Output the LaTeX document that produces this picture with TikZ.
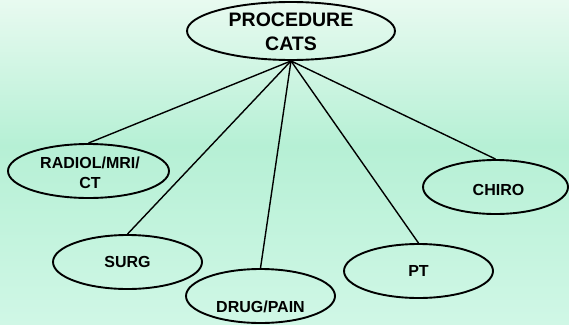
\documentclass[tikz,border=0pt]{standalone}
\usepackage{fontspec}
\setmainfont{Liberation Sans}
\usetikzlibrary{shapes.geometric}

\definecolor{bgtop}{RGB}{232,250,240}
\definecolor{bgmid}{RGB}{182,240,213}
\definecolor{bgbot}{RGB}{208,247,230}

\tikzset{
  cat/.style={ellipse, draw=black, line width=1.9pt, inner sep=0pt,
    minimum width=149pt, minimum height=54pt},
  lbl/.style={font=\bfseries\fontsize{16}{20}\selectfont, align=center, text=black},
  link/.style={draw=black, line width=1.4pt}
}

\begin{document}
\begin{tikzpicture}[x=1pt, y=-1pt]
  \useasboundingbox (0,0) rectangle (569,324);
  % soft mint background
  \shade[top color=bgtop, bottom color=bgmid] (0,0) rectangle (569,146);
  \shade[top color=bgmid, bottom color=bgbot] (0,145) rectangle (569,324);

  % root category
  \node[cat, minimum width=208pt, minimum height=58pt,
        label={[lbl, font=\bfseries\fontsize{19.5}{23.5}\selectfont, yshift=-1pt]center:PROCEDURE\\CATS}]
        (root) at (291,31) {};

  % procedure categories
  \node[cat, minimum width=161pt,
        label={[lbl, xshift=1.5pt, yshift=-2pt]center:RADIOL/MRI/\\CT}]
        (radiol) at (88.5,171) {};
  \node[cat, label={[lbl]center:SURG}] (surg) at (127.5,262) {};
  \node[cat, label={[lbl, yshift=-11pt]center:DRUG/PAIN}] (drug) at (260.5,296) {};
  \node[cat, label={[lbl]center:PT}] (pt) at (418.5,271) {};
  \node[cat, minimum width=145pt, label={[lbl, xshift=3pt, yshift=-3pt]center:CHIRO}] (chiro) at (495.5,187) {};

  % connectors from the root
  \foreach \c in {radiol, surg, drug, pt, chiro}
    \draw[link] (root.south) -- (\c.north);
\end{tikzpicture}
\end{document}
